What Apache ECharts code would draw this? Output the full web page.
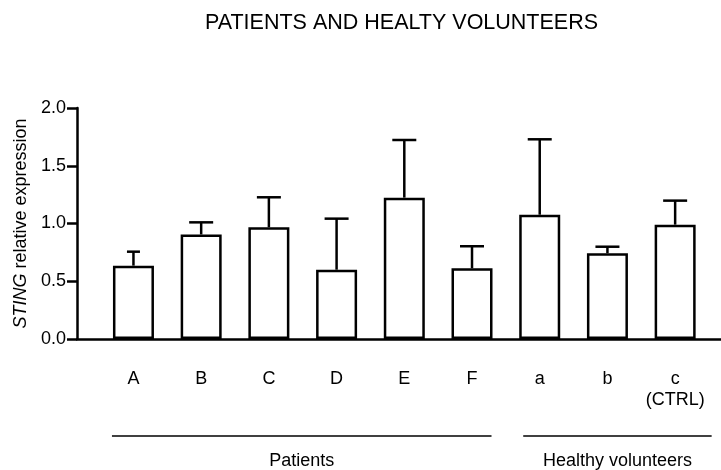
<!DOCTYPE html>
<html>
<head>
<meta charset="utf-8">
<title>STING relative expression</title>
<script src="https://cdn.jsdelivr.net/npm/echarts@6/dist/echarts.min.js"></script>
<style>
  html, body { margin: 0; padding: 0; background: #fff; }
  #chart { width: 721px; height: 470px; }
</style>
</head>
<body>
<div id="chart"></div>
<script>
// data
const categories = ['A', 'B', 'C', 'D', 'E', 'F', 'a', 'b', 'c\n(CTRL)']
const expression = [0.635, 0.905, 0.967, 0.60, 1.224, 0.612, 1.076, 0.742, 0.99]
const errorTop = [0.756, 1.01, 1.227, 1.042, 1.723, 0.803, 1.729, 0.799, 1.198]
const yTickLabels = ['0.0', '0.5', '1.0', '1.5', '2.0']
const groupNames = ['Patients', 'Healthy volunteers']
const groupFrom = [0, 6]
const groupTo = [5, 8]

const FONT = '"Liberation Sans", Arial, sans-serif'
const INK = '#000'
const LW = 2.5

const gridBox = { top: 108, bottom: 131 }

const option = {
  animation: false,
  textStyle: { fontFamily: FONT, color: INK },
  title: {
    text: 'PATIENTS AND HEALTY VOLUNTEERS',
    left: 205,
    top: 12,
    padding: 0,
    textStyle: { fontFamily: FONT, fontSize: 21.5, fontWeight: 'normal', color: INK },
  },
  grid: [
    { left: 99.6, right: 12, top: gridBox.top, bottom: gridBox.bottom }, // bars
    { left: 77, right: 0, top: gridBox.top, bottom: gridBox.bottom }, // long x axis line
  ],
  xAxis: [
    {
      type: 'category',
      gridIndex: 0,
      data: categories,
      axisLine: { show: false },
      axisTick: { show: false },
      axisLabel: { interval: 0, margin: 30, fontSize: 18, lineHeight: 21, color: INK, fontFamily: FONT },
    },
    {
      type: 'value',
      gridIndex: 1,
      min: 0,
      max: 1,
      axisLine: { show: true, lineStyle: { color: INK, width: LW } },
      axisTick: { show: false },
      axisLabel: { show: false },
      splitLine: { show: false },
    },
  ],
  yAxis: [
    {
      type: 'value',
      gridIndex: 0,
      min: 0,
      max: 2,
      interval: 0.5,
      offset: 22.6,
      name: '{i|STING} relative expression',
      nameLocation: 'middle',
      nameGap: 43,
      nameRotate: 90,
      nameTextStyle: {
        fontSize: 18,
        color: INK,
        fontFamily: FONT,
        rich: { i: { fontStyle: 'italic', fontSize: 18, color: INK, fontFamily: FONT } },
      },
      axisLine: { show: true, lineStyle: { color: INK, width: LW } },
      axisTick: { show: true, length: 10, lineStyle: { color: INK, width: LW } },
      axisLabel: {
        margin: 11,
        fontSize: 18,
        color: INK,
        fontFamily: FONT,
        formatter: v => yTickLabels[Math.round(v / 0.5)],
      },
      splitLine: { show: false },
    },
    { type: 'value', gridIndex: 1, show: false, min: 0, max: 1 },
  ],
  series: [
    {
      type: 'bar',
      xAxisIndex: 0,
      yAxisIndex: 0,
      data: expression,
      barWidth: 41,
      itemStyle: { color: '#fff', borderColor: INK, borderWidth: LW },
      z: 2,
    },
    {
      // upper error bars
      type: 'custom',
      xAxisIndex: 0,
      yAxisIndex: 0,
      z: 1,
      data: categories.map((c, i) => [i, expression[i], errorTop[i]]),
      encode: { x: 0, y: [1, 2] },
      renderItem(params, api) {
        const base = api.coord([api.value(0), api.value(1)])
        const top = api.coord([api.value(0), api.value(2)])
        const half = params.dataIndex === 0 ? 6.5 : 12
        const style = { stroke: INK, lineWidth: LW }
        return {
          type: 'group',
          children: [
            { type: 'line', shape: { x1: base[0], y1: base[1], x2: top[0], y2: top[1] }, style },
            { type: 'line', shape: { x1: top[0] - half, y1: top[1], x2: top[0] + half, y2: top[1] }, style },
          ],
        }
      },
    },
    {
      // group brackets under the categories
      type: 'custom',
      xAxisIndex: 0,
      yAxisIndex: 0,
      clip: false,
      silent: true,
      data: groupNames.map((n, i) => [groupFrom[i], groupTo[i], 0]),
      encode: { x: [0, 1], y: 2 },
      renderItem(params, api) {
        const padL = [21.5, 16.5]
        const padR = [19.5, 36.5]
        const i = params.dataIndex
        const a = api.coord([api.value(0), 0])
        const b = api.coord([api.value(1), 0])
        const x1 = a[0] - padL[i]
        const x2 = b[0] + padR[i]
        const y = a[1] + 97
        return {
          type: 'group',
          children: [
            { type: 'line', shape: { x1, y1: y, x2, y2: y }, style: { stroke: INK, lineWidth: 1.5 } },
            {
              type: 'text',
              x: (x1 + x2) / 2,
              y: y + 25,
              style: { text: groupNames[i], fill: INK, font: '18px ' + FONT, align: 'center', verticalAlign: 'middle' },
            },
          ],
        }
      },
    },
  ],
}

const myChart = echarts.init(document.getElementById('chart'), null, { renderer: 'canvas' })
myChart.setOption(option)
</script>
</body>
</html>
